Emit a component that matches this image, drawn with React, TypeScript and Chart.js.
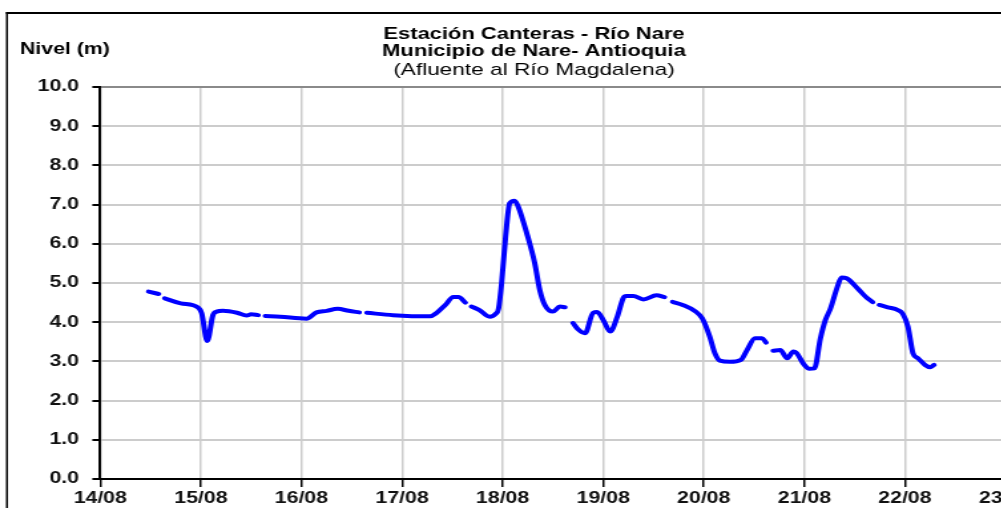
import React, { useEffect, useRef } from "react";
import { Chart, registerables } from "chart.js";

Chart.register(...registerables);

// ---------- data ----------
const titleLines = ["Estación Canteras - Río Nare", "Municipio de Nare- Antioquia"];
const subtitleText = "(Afluente al Río Magdalena)";
const yAxisLabel = "Nivel (m)";
const monthLabel = "08";
const xMinDay = 14;
const xMaxDay = 23;
const yMin = 0;
const yMax = 10;

// day of August (fractional) ; null level = gap in the record
const days = [
  14.48, 14.58, 14.61,
  14.64, 14.8, 14.975, 15.008, 15.064, 15.12, 15.157, 15.22, 15.36, 15.455, 15.5, 15.57, 15.605,
  15.64, 15.79, 16.05, 16.15, 16.25, 16.36, 16.47, 16.575, 16.61,
  16.65, 16.91, 17.28, 17.34, 17.43, 17.51, 17.56, 17.63, 17.66,
  17.69, 17.77, 17.87, 17.93, 17.96, 17.99, 18.03, 18.07, 18.12, 18.155, 18.24, 18.32, 18.37, 18.42, 18.5, 18.57, 18.62, 18.66,
  18.7, 18.75, 18.82, 18.9, 18.94, 19.0, 19.07, 19.14, 19.2, 19.23, 19.3, 19.4, 19.53, 19.61, 19.65,
  19.69, 19.79, 19.92, 19.985, 20.06, 20.11, 20.16, 20.26, 20.37, 20.43, 20.51, 20.58, 20.62, 20.655,
  20.69, 20.76, 20.83, 20.89, 20.92, 21.0, 21.05, 21.1, 21.16, 21.21, 21.26, 21.33, 21.37, 21.42, 21.53, 21.61, 21.68, 21.71,
  21.745, 21.83, 21.93, 21.98, 22.03, 22.08, 22.13, 22.2, 22.25, 22.29,
];
const levels: (number | null)[] = [
  4.78, 4.72, null,
  4.61, 4.48, 4.37, 4.23, 3.52, 4.18, 4.27, 4.29, 4.24, 4.17, 4.2, 4.18, null,
  4.16, 4.14, 4.09, 4.25, 4.29, 4.34, 4.29, 4.25, null,
  4.24, 4.18, 4.15, 4.23, 4.44, 4.64, 4.64, 4.5, null,
  4.4, 4.31, 4.14, 4.21, 4.35, 4.99, 6.18, 7.03, 7.1, 6.95, 6.27, 5.5, 4.82, 4.44, 4.27, 4.4, 4.38, null,
  3.98, 3.82, 3.72, 4.24, 4.26, 4.06, 3.76, 4.14, 4.62, 4.67, 4.67, 4.58, 4.69, 4.64, null,
  4.52, 4.44, 4.27, 4.1, 3.63, 3.21, 3.02, 2.99, 3.04, 3.29, 3.59, 3.59, 3.48, null,
  3.27, 3.29, 3.08, 3.25, 3.22, 2.91, 2.81, 2.82, 3.59, 4.06, 4.35, 4.91, 5.14, 5.12, 4.86, 4.65, 4.51, null,
  4.44, 4.38, 4.31, 4.21, 3.89, 3.21, 3.08, 2.91, 2.85, 2.91,
];

// ---------- layout constants ----------
const K = 1.33; // horizontal stretch of the reference picture
const CW = 803;
const CH = 508;
const FONT = "'Liberation Sans', Arial, sans-serif";

const framePlugin = {
  id: "frameAndLabel",
  beforeDraw(chart: any) {
    const ctx = chart.ctx;
    ctx.save();
    ctx.fillStyle = "#000";
    ctx.fillRect(4.5, 12, 1.5, CH);
    ctx.fillRect(4.5, 12, CW, 2);
    ctx.restore();
  },
  afterDraw(chart: any) {
    const ctx = chart.ctx;
    ctx.save();
    ctx.fillStyle = "#000";
    ctx.font = `bold 16px ${FONT}`;
    ctx.textAlign = "left";
    ctx.textBaseline = "middle";
    ctx.fillText(yAxisLabel, 15, 50);
    ctx.restore();
  },
};

export default function App() {
  const ref = useRef<HTMLCanvasElement | null>(null);

  useEffect(() => {
    if (!ref.current) return;
    const points = days.map((d, i) => ({ x: d, y: levels[i] }));
    const chart = new Chart(ref.current, {
      type: "line",
      data: {
        datasets: [
          {
            data: points as any,
            borderColor: "#0000ff",
            backgroundColor: "#0000ff",
            borderWidth: 4,
            pointRadius: 0,
            spanGaps: false,
            cubicInterpolationMode: "monotone",
            borderCapStyle: "round",
            borderJoinStyle: "round",
            fill: false,
          },
        ],
      },
      options: {
        animation: false,
        responsive: false,
        events: [],
        layout: { padding: 0 },
        plugins: {
          legend: { display: false },
          tooltip: { enabled: false },
          title: {
            display: true,
            text: titleLines,
            color: "#000",
            font: { family: FONT, size: 16.5, weight: "bold", lineHeight: 1.03 },
            padding: { top: 25.5, bottom: 0 },
          },
          subtitle: {
            display: true,
            text: subtitleText,
            color: "#000",
            font: { family: FONT, size: 17, weight: "normal", lineHeight: 1 },
            padding: { top: 2.5, bottom: 8 },
          },
        },
        scales: {
          x: {
            type: "linear",
            min: xMinDay,
            max: xMaxDay,
            afterFit: (axis: any) => {
              axis.height = 29;
            },
            ticks: {
              stepSize: 1,
              autoSkip: false,
              maxRotation: 0,
              padding: 2,
              color: "#111",
              font: { family: FONT, size: 16, weight: "bold" },
              callback: (v: any) => `${v}/${monthLabel}`,
            },
            grid: {
              color: "#cccccc",
              lineWidth: 1.5,
              tickLength: 8,
              tickColor: "#000",
              tickWidth: 1.5,
            },
            border: { display: true, color: "#000", width: 2 },
          },
          y: {
            min: yMin,
            max: yMax,
            afterFit: (axis: any) => {
              axis.width = 75.4;
            },
            ticks: {
              stepSize: 1,
              padding: 10,
              color: "#111",
              font: { family: FONT, size: 16, weight: "bold" },
              callback: (v: any) => Number(v).toFixed(1),
            },
            grid: {
              color: (c: any) => (c.tick && c.tick.value === yMax ? "#8a8a8a" : "#cccccc"),
              lineWidth: 2,
              tickLength: 6,
              tickColor: "#000",
              tickWidth: 2,
            },
            border: { display: true, color: "#000", width: 2 },
          },
          yRight: {
            position: "right",
            min: yMin,
            max: yMax,
            afterFit: (axis: any) => {
              axis.width = 47;
            },
            ticks: { display: false, stepSize: 1 },
            grid: { display: false },
            border: { display: false },
          },
        },
      },
      plugins: [framePlugin],
    });
    return () => chart.destroy();
  }, []);

  return (
    <div
      style={{
        position: "absolute",
        left: 0,
        top: 0,
        width: 1001,
        height: 508,
        overflow: "hidden",
        background: "#fff",
      }}
    >
      <div
        style={{
          width: CW,
          height: CH,
          transform: `scaleX(${K})`,
          transformOrigin: "0 0",
        }}
      >
        <canvas ref={ref} width={CW} height={CH} style={{ display: "block" }} />
      </div>
    </div>
  );
}
